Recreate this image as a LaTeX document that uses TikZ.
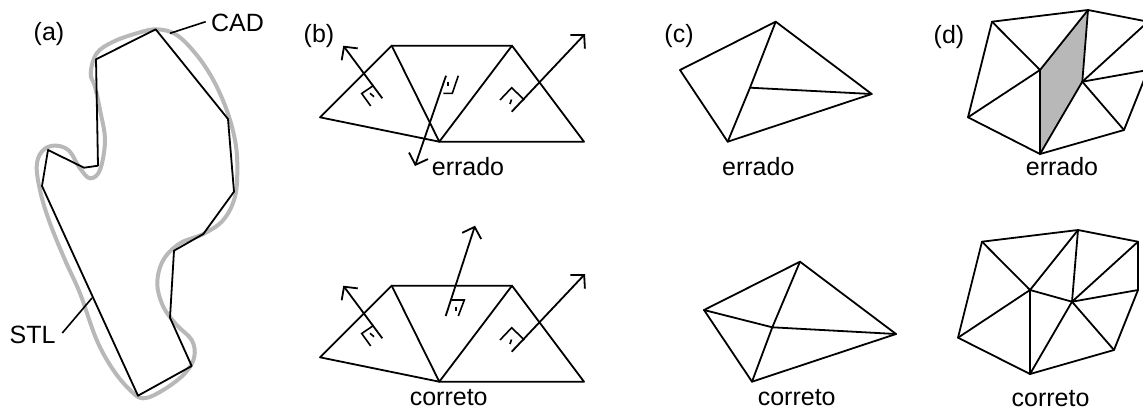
\documentclass[tikz,border=0pt]{standalone}
\usepackage{fontspec}
\setmainfont{Liberation Sans}
\usetikzlibrary{arrows.meta, positioning}

\begin{document}
\begin{tikzpicture}[
      x=1pt, y=-1pt,
      font=\fontsize{25}{25}\selectfont,
      lbl/.style={anchor=base, inner sep=0pt},
      mesh/.style={draw, line width=1.8pt, line cap=round, line join=round},
      arr/.style={-{Straight Barb[length=9.5pt,width=20pt]}, line width=1.8pt},
      perp/.style={line width=1.6pt, line join=miter},
      tick/.style={line width=1.6pt},
      lead/.style={line width=1.6pt},
      cadline/.style={draw=black!28, line width=4pt},
    ]
    \clip (0,0) rectangle (1143,408);

    % (a)
    \draw[cadline] plot[smooth cycle, tension=0.6] coordinates {
        (156.7,29.3) (176.7,35) (196.7,55) (213.3,80) (226.7,110) (235,140)
        (237.3,166.7) (235,196.7) (223.3,220) (203.3,234) (180,243.3)
        (163.3,260) (157.3,283.3) (163.3,306.7) (176.7,325) (191.7,340)
        (194.3,356.7) (185,373.3) (163.3,390) (143.3,398.3) (130,390)
        (113.3,370) (96.7,340) (80,293.3) (65,260) (50,223.3) (40.7,193.3)
        (36.7,166.7) (41.7,151.7) (53.3,145.7) (68.3,150) (80,168.3)
        (90,178.3) (100,170) (105,140) (100,110) (95,86.7) (90.7,73.3)
        (96.7,53.3) (113.3,41.7) (136.7,33.3)};
    \draw[mesh] (155.7,29.3) -- (228,119) -- (234,191.7) -- (203.3,234)
        -- (174,250.7) -- (170,317.7) -- (191.7,366) -- (138,395.7)
        -- (42,186) -- (48,150) -- (84,167.7) -- (98,165.7) -- (96,59.3) -- cycle;

    \node[lbl] (tagA) at (49,40.5) {(a)};
    \node[lbl] (cad) at (237.5,31.5) {CAD};
    \node[lbl] (stl) at (32.5,343) {STL};
    \coordinate (cadEnd) at (170,33.3);
    \coordinate (stlEnd) at (92,298);
    \draw[lead] (205.7,21.7) -- (cadEnd);
    \draw[lead] (62.3,333) -- (stlEnd);

    % (b)
    \node[lbl] (tagB) at (319,42) {(b)};
    \foreach \s/\dy in {E/0,C/240} {
      \coordinate (l\s) at (320,117.3+\dy);
      \coordinate (tl\s) at (391.7,45.7+\dy);
      \coordinate (tr\s) at (512,45.7+\dy);
      \coordinate (b\s) at (439.3,141.7+\dy);
      \coordinate (r\s) at (584,141.7+\dy);
      \draw[mesh] (l\s) -- (tl\s) -- (tr\s) -- (r\s) -- (b\s) -- cycle;
      \draw[mesh] (tl\s) -- (b\s) -- (tr\s);
      \draw[arr] (382.3,98.3+\dy) -- (343.3,45.7+\dy);
      \draw[perp] (370.7,106+\dy) -- (361.7,93.5+\dy) -- (373.5,85.5+\dy);
      \draw[tick] (370,93.3+\dy) -- (374,96.7+\dy);
      \draw[arr] (511.7,111.7+\dy) -- (585,34+\dy);
      \draw[perp] (500,100+\dy) -- (511.7,87.7+\dy) -- (524.3,100+\dy);
      \draw[tick] (511.5,99.5+\dy) -- (510,104+\dy);
    }
    \draw[arr] (446,75.7) -- (415,166);
    \draw[perp] (443.3,93.3) -- (452.3,93.3) -- (458.3,75.7);
    \draw[tick] (447.7,81.7) -- (447.7,86);
    \draw[arr] (445.7,316) -- (475,225.7);
    \draw[perp] (451,300) -- (464.3,300) -- (458.3,316);
    \draw[tick] (455.7,307) -- (455.7,311);
    \node[lbl] (errB) at (468,175) {errado};
    \node[lbl] (corB) at (448.7,405.7) {correto};

    % (c)
    \node[lbl] (tagC) at (679,42) {(c)};
    \foreach \n/\x/\y in {cT/775.7/21.7, cL/680/70, cB/727.7/141.7, cR/871.7/94, cI/750/87.7,
        dT/800/261.7, dL/704/310, dB/752/381.7, dR/896/334, dI/772.3/327.3}
      \coordinate (\n) at (\x,\y);
    \draw[mesh] (cL) -- (cT) -- (cR) -- (cB) -- cycle;
    \draw[mesh] (cT) -- (cI) -- (cB);
    \draw[mesh] (cI) -- (cR);
    \node[lbl] (errC) at (758.3,175.7) {errado};
    \draw[mesh] (dL) -- (dT) -- (dR) -- (dB) -- cycle;
    \draw[mesh] (dT) -- (dI) -- (dB);
    \draw[mesh] (dL) -- (dI) -- (dR);
    \node[lbl] (corC) at (796.7,405.7) {correto};

    % (d)
    \node[lbl] (tagD) at (949,43) {(d)};
    \foreach \n/\x/\y in {ea/992/21.7, et/1088/10, er/1148/21.7, es/1148/70, eg/1124/130,
        eh/1040/154, ei/968/117.3, ed/1040/70, ee/1082.3/81.7,
        fa/982/241.7, ft/1078/230, fr/1138/241.7, fs/1138/290, fg/1114/350,
        fh/1030/374, fi/958/337.7, fd/1030/290, fe/1072/301.7}
      \coordinate (\n) at (\x,\y);
    \fill[black!28] (ed) -- (et) -- (ee) -- (eh) -- cycle;
    \draw[mesh] (ea) -- (et) -- (er) -- (es) -- (eg) -- (eh) -- (ei) -- cycle;
    \foreach \a/\b in {ea/ed, ei/ed, ed/et, ed/eh, et/ee, er/ee, es/ee, eg/ee, eh/ee}
      \draw[mesh] (\a) -- (\b);
    \node[lbl] (errD) at (1062,175.7) {errado};
    \draw[mesh] (fa) -- (ft) -- (fr) -- (fs) -- (fg) -- (fh) -- (fi) -- cycle;
    \foreach \a/\b in {fa/fd, fi/fd, fd/ft, fd/fh, fd/fe, ft/fe, fr/fe, fs/fe, fg/fe, fh/fe}
      \draw[mesh] (\a) -- (\b);
    \node[lbl] (corD) at (1050.5,406.7) {correto};

\end{tikzpicture}
\end{document}
